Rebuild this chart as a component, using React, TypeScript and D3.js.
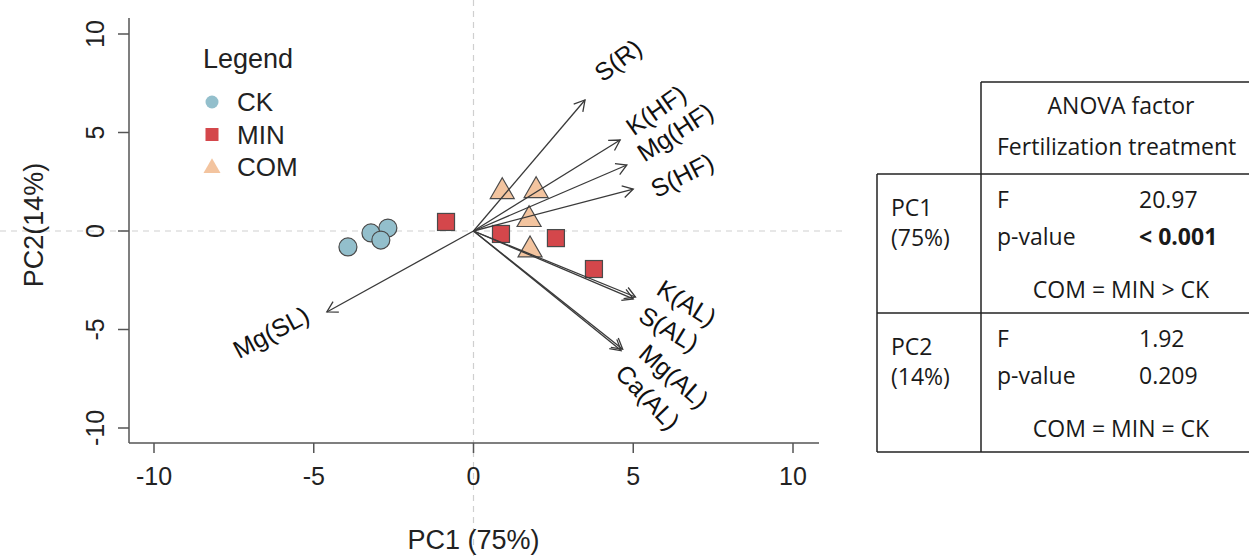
import React from "react";
import * as d3 from "d3";

// ---- data ----
const groups = ["CK", "MIN", "COM"];
const ckX = [-3.93, -3.21, -2.68, -2.9];
const ckY = [-0.81, -0.1, 0.15, -0.46];
const minX = [-0.86, 0.86, 2.58, 3.77];
const minY = [0.46, -0.15, -0.36, -1.93];
const comX = [0.9, 1.96, 1.74, 1.77];
const comY = [2.0, 2.05, 0.58, -0.96];

const loadingNames = ["S(R)", "K(HF)", "Mg(HF)", "S(HF)", "K(AL)", "S(AL)", "Mg(AL)", "Ca(AL)", "Mg(SL)"];
const loadingX = [3.49, 4.59, 4.8, 5.0, 5.07, 5.0, 4.67, 4.62, -4.59];
const loadingY = [6.65, 4.62, 3.35, 2.13, -3.35, -3.45, -6.0, -6.07, -4.11];
// label anchor (data units) and rotation (deg)
const labelX = [4.52, 5.71, 6.31, 6.53, 6.68, 6.12, 6.28, 5.46, -6.34];
const labelY = [8.68, 6.14, 5.03, 2.84, -3.65, -4.97, -7.36, -8.43, -5.13];
const labelRot = [-37, -35, -33, -27, 32, 31, 41, 46, -28];

const xTicks = [-10, -5, 0, 5, 10];
const yTicks = [-10, -5, 0, 5, 10];

const tableHeader = ["ANOVA factor", "Fertilization treatment"];
const pcNames = ["PC1", "PC2"];
const pcVar = ["(75%)", "(14%)"];
const fValues = ["20.97", "1.92"];
const pValues = ["< 0.001", "0.209"];
const pBold = [true, false];
const posthoc = ["COM = MIN > CK", "COM = MIN = CK"];

const colors: Record<string, string> = { CK: "#93bfcc", MIN: "#d4474b", COM: "#f3c49f" };

const W = 1249;
const H = 556;

export default function App() {
  const x = d3.scaleLinear().domain([-10, 10]).range([154, 793]);
  const y = d3.scaleLinear().domain([-10, 10]).range([428, 34]);
  const x0 = 129, x1 = 819, yTop = 18, yBot = 443;

  const axisFont = "'Liberation Sans', Arial, sans-serif";
  const tableFont = "'Open Sans', Lato, sans-serif";

  const tri = (cx: number, cy: number, s: number) => {
    const h = s * 0.866;
    return `M${cx},${cy - (2 * h) / 3}L${cx + s / 2},${cy + h / 3}L${cx - s / 2},${cy + h / 3}Z`;
  };

  const arrowHead = (xa: number, ya: number, xb: number, yb: number) => {
    const ang = Math.atan2(yb - ya, xb - xa);
    const L = 12;
    const a1 = ang + Math.PI - Math.PI / 6;
    const a2 = ang + Math.PI + Math.PI / 6;
    return `M${xb + L * Math.cos(a1)},${yb + L * Math.sin(a1)}L${xb},${yb}L${xb + L * Math.cos(a2)},${yb + L * Math.sin(a2)}`;
  };

  const tX = 877, tX2 = 981, tRight = 1250;
  const rowLines = [82, 174, 313, 452];

  return (
    <svg width={W} height={H} style={{ position: "absolute", left: 0, top: 0, background: "#fff" }}>
      {/* reference dashed lines */}
      <line x1={0} x2={845} y1={y(0)} y2={y(0)} stroke="#cfcfcf" strokeWidth={1.2} strokeDasharray="6,5" />
      <line x1={x(0)} x2={x(0)} y1={0} y2={H} stroke="#cfcfcf" strokeWidth={1.2} strokeDasharray="6,5" />

      {/* axes */}
      <line x1={x0} x2={x0} y1={yTop} y2={yBot} stroke="#555" strokeWidth={1.5} />
      <line x1={x0} x2={x1} y1={yBot} y2={yBot} stroke="#555" strokeWidth={1.5} />
      {xTicks.map((t) => (
        <g key={"xt" + t}>
          <line x1={x(t)} x2={x(t)} y1={yBot} y2={yBot + 10} stroke="#555" strokeWidth={1.5} />
          <text x={x(t)} y={485} fontSize={25} fontFamily={axisFont} textAnchor="middle" fill="#222">
            {t}
          </text>
        </g>
      ))}
      {yTicks.map((t) => (
        <g key={"yt" + t}>
          <line x1={x0} x2={x0 - 11} y1={y(t)} y2={y(t)} stroke="#555" strokeWidth={1.5} />
          <text
            transform={`translate(104,${y(t)}) rotate(-90)`}
            fontSize={25}
            fontFamily={axisFont}
            textAnchor="middle"
            fill="#222"
          >
            {t}
          </text>
        </g>
      ))}
      <text x={x(0)} y={549} fontSize={27} fontFamily={axisFont} textAnchor="middle" fill="#222">
        PC1 (75%)
      </text>
      <text
        transform={`translate(43,${y(0) - 6}) rotate(-90)`}
        fontSize={27}
        fontFamily={axisFont}
        textAnchor="middle"
        fill="#222"
      >
        PC2(14%)
      </text>

      {/* points */}
      {ckX.map((v, i) => (
        <circle key={"ck" + i} cx={x(v)} cy={y(ckY[i])} r={9} fill={colors.CK} stroke="#4a4a4a" strokeWidth={1.2} />
      ))}
      {minX.map((v, i) => (
        <rect
          key={"mn" + i}
          x={x(v) - 8.5}
          y={y(minY[i]) - 8.5}
          width={17}
          height={17}
          fill={colors.MIN}
          stroke="#4a4a4a"
          strokeWidth={1.2}
        />
      ))}
      {comX.map((v, i) => (
        <path key={"cm" + i} d={tri(x(v), y(comY[i]), 24)} fill={colors.COM} stroke="#4a4a4a" strokeWidth={1.2} />
      ))}

      {/* loadings */}
      {loadingNames.map((n, i) => {
        const xb = x(loadingX[i]);
        const yb = y(loadingY[i]);
        return (
          <g key={"ld" + n}>
            <line x1={x(0)} y1={y(0)} x2={xb} y2={yb} stroke="#3a3a3a" strokeWidth={1.3} />
            <path d={arrowHead(x(0), y(0), xb, yb)} fill="none" stroke="#3a3a3a" strokeWidth={1.3} />
            <text
              transform={`translate(${x(labelX[i])},${y(labelY[i])}) rotate(${labelRot[i]})`}
              fontSize={25}
              fontFamily={axisFont}
              textAnchor="middle"
              dominantBaseline="central"
              fill="#111"
            >
              {n}
            </text>
          </g>
        );
      })}

      {/* legend */}
      <text x={203} y={68} fontSize={27} fontFamily={axisFont} fill="#222">
        Legend
      </text>
      {groups.map((g, i) => {
        const cy = 102 + i * 32.5;
        return (
          <g key={"lg" + g}>
            {g === "CK" && <circle cx={212} cy={cy} r={6.5} fill={colors.CK} />}
            {g === "MIN" && <rect x={205.5} y={cy - 6.5} width={13} height={13} fill={colors.MIN} />}
            {g === "COM" && <path d={tri(212, cy + 1, 17)} fill={colors.COM} />}
            <text x={237} y={cy + 9} fontSize={26} fontFamily={axisFont} fill="#222">
              {g}
            </text>
          </g>
        );
      })}

      {/* table */}
      <g stroke="#222" strokeWidth={1.5}>
        <line x1={tX2} x2={tRight} y1={rowLines[0]} y2={rowLines[0]} />
        <line x1={tX} x2={tRight} y1={rowLines[1]} y2={rowLines[1]} />
        <line x1={tX} x2={tRight} y1={rowLines[2]} y2={rowLines[2]} />
        <line x1={tX} x2={tRight} y1={rowLines[3]} y2={rowLines[3]} />
        <line x1={tX2} x2={tX2} y1={rowLines[0]} y2={rowLines[3]} />
        <line x1={tX} x2={tX} y1={rowLines[1]} y2={rowLines[3]} />
      </g>
      <g fontFamily={tableFont} fontSize={23} fill="#1a1a1a">
        <text x={1121} y={114} textAnchor="middle">{tableHeader[0]}</text>
        <text x={997} y={155}>{tableHeader[1]}</text>
        {pcNames.map((p, i) => {
          const top = rowLines[i + 1];
          return (
            <g key={"row" + p}>
              <text x={891} y={top + 42}>{p}</text>
              <text x={891} y={top + 72}>{pcVar[i]}</text>
              <text x={997} y={top + 34}>F</text>
              <text x={1139} y={top + 34}>{fValues[i]}</text>
              <text x={997} y={top + 71}>p-value</text>
              <text x={1139} y={top + 71} fontWeight={pBold[i] ? 700 : 400}>{pValues[i]}</text>
              <text x={1121} y={top + 124} textAnchor="middle">{posthoc[i]}</text>
            </g>
          );
        })}
      </g>
    </svg>
  );
}
